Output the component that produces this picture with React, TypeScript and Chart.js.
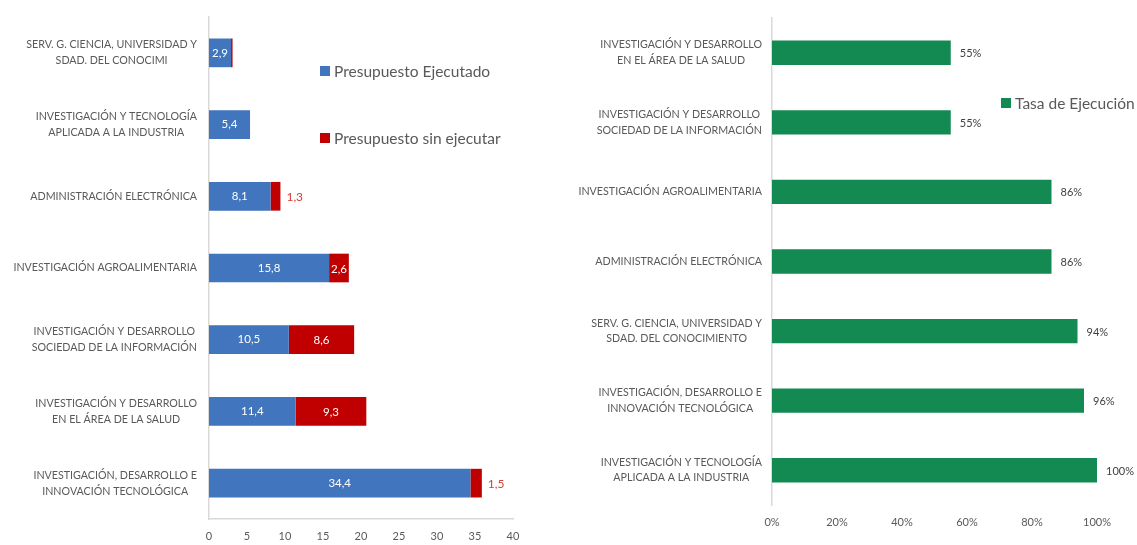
import React, { useEffect, useRef } from "react";
import { Chart, registerables } from "chart.js";

Chart.register(...registerables);

const leftCategories: string[][] = [
  ["SERV. G. CIENCIA, UNIVERSIDAD Y", "SDAD. DEL CONOCIMI"],
  ["INVESTIGACIÓN Y TECNOLOGÍA", "APLICADA A LA INDUSTRIA"],
  ["ADMINISTRACIÓN ELECTRÓNICA"],
  ["INVESTIGACIÓN AGROALIMENTARIA"],
  ["INVESTIGACIÓN Y DESARROLLO", "SOCIEDAD DE LA INFORMACIÓN"],
  ["INVESTIGACIÓN Y DESARROLLO", "EN EL ÁREA DE LA SALUD"],
  ["INVESTIGACIÓN, DESARROLLO E", "INNOVACIÓN TECNOLÓGICA"],
];
const ejecutado: number[] = [2.9, 5.4, 8.1, 15.8, 10.5, 11.4, 34.4];
const sinEjecutar: number[] = [0.2, 0, 1.3, 2.6, 8.6, 9.3, 1.5];
const leftTicks: number[] = [0, 5, 10, 15, 20, 25, 30, 35, 40];

const rightCategories: string[][] = [
  ["INVESTIGACIÓN Y DESARROLLO", "EN EL ÁREA DE LA SALUD"],
  ["INVESTIGACIÓN Y DESARROLLO", "SOCIEDAD DE LA INFORMACIÓN"],
  ["INVESTIGACIÓN AGROALIMENTARIA"],
  ["ADMINISTRACIÓN ELECTRÓNICA"],
  ["SERV. G. CIENCIA, UNIVERSIDAD Y", "SDAD. DEL CONOCIMIENTO"],
  ["INVESTIGACIÓN, DESARROLLO E", "INNOVACIÓN TECNOLÓGICA"],
  ["INVESTIGACIÓN Y TECNOLOGÍA", "APLICADA A LA INDUSTRIA"],
];
const tasaEjecucion: number[] = [55, 55, 86, 86, 94, 96, 100];
const rightTicks: number[] = [0, 20, 40, 60, 80, 100];

const FONT = "Lato";
const BLUE = "#4175bd";
const RED = "#c00000";
const GREEN = "#138a51";
const TEXT = "#595959";

const fmt = (v: number) => v.toFixed(1).replace(".", ",");

function categoryLabelPlugin(labels: string[][], gap: number, lineH: number) {
  return {
    id: "catLabels",
    afterDraw(chart: any) {
      const ctx = chart.ctx;
      const y = chart.scales.y;
      ctx.save();
      ctx.font = `10.7px ${FONT}`;
      ctx.fillStyle = TEXT;
      ctx.textAlign = "center";
      ctx.textBaseline = "middle";
      labels.forEach((lines, i) => {
        const py = y.getPixelForValue(i);
        const w = Math.max(...lines.map((l) => ctx.measureText(l).width));
        const cx = chart.chartArea.left - gap - w / 2;
        const start = py - ((lines.length - 1) * lineH) / 2;
        lines.forEach((l, k) => ctx.fillText(l, cx, start + k * lineH));
      });
      ctx.restore();
    },
  };
}

const leftValueLabels = {
  id: "leftValues",
  afterDatasetsDraw(chart: any) {
    const ctx = chart.ctx;
    ctx.save();
    ctx.textBaseline = "middle";
    chart.data.datasets.forEach((ds: any, di: number) => {
      const meta = chart.getDatasetMeta(di);
      meta.data.forEach((bar: any, i: number) => {
        const v = ds.data[i];
        if (!v || v < 1) return;
        const mid = (bar.x + bar.base) / 2;
        if (di === 1 && v < 2) {
          ctx.font = `12px ${FONT}`;
          ctx.fillStyle = "#d0403c";
          ctx.textAlign = "left";
          ctx.fillText(fmt(v), bar.x + 6, bar.y + 1);
        } else {
          ctx.font = `11.5px ${FONT}`;
          ctx.fillStyle = "#ffffff";
          ctx.textAlign = "center";
          ctx.fillText(fmt(v), mid, bar.y + (di === 1 ? 1 : 0));
        }
      });
    });
    ctx.restore();
  },
};

const rightValueLabels = {
  id: "rightValues",
  afterDatasetsDraw(chart: any) {
    const ctx = chart.ctx;
    ctx.save();
    ctx.font = `11px ${FONT}`;
    ctx.fillStyle = "#404040";
    ctx.textAlign = "left";
    ctx.textBaseline = "middle";
    const meta = chart.getDatasetMeta(0);
    meta.data.forEach((bar: any, i: number) => {
      ctx.fillText(`${tasaEjecucion[i]}%`, bar.x + 9, bar.y + 1);
    });
    ctx.restore();
  },
};

function LeftChart() {
  const ref = useRef<HTMLCanvasElement>(null);
  useEffect(() => {
    const chart = new Chart(ref.current!, {
      type: "bar",
      data: {
        labels: leftCategories.map((l) => l.join(" ")),
        datasets: [
          { label: "Presupuesto Ejecutado", data: ejecutado, backgroundColor: BLUE, categoryPercentage: 1, barPercentage: 0.4 },
          { label: "Presupuesto sin ejecutar", data: sinEjecutar, backgroundColor: RED, categoryPercentage: 1, barPercentage: 0.4 },
        ],
      },
      options: {
        indexAxis: "y",
        responsive: false,
        animation: false,
        devicePixelRatio: 1,
        layout: { padding: { top: 17, right: 47, left: 0, bottom: 0 } },
        plugins: { legend: { display: false }, tooltip: { enabled: false } },
        scales: {
          x: {
            stacked: true,
            min: 0,
            max: 40,
            afterBuildTicks: (s: any) => { s.ticks = leftTicks.map((v) => ({ value: v })); },
            grid: { display: false, drawTicks: false },
            border: { display: true, color: "#d9d9d9", width: 1.5 },
            ticks: { color: TEXT, font: { family: FONT, size: 11 }, padding: 11, maxRotation: 0 },
            afterFit: (s: any) => { s.height = 26; },
          },
          y: {
            stacked: true,
            grid: { display: false, drawTicks: false },
            border: { display: true, color: "#d9d9d9", width: 1.5 },
            ticks: { display: false },
            afterFit: (s: any) => { s.width = 209; },
          },
        },
      },
      plugins: [categoryLabelPlugin(leftCategories, 12, 16), leftValueLabels],
    } as any);
    return () => chart.destroy();
  }, []);
  return <canvas ref={ref} width={560} height={545} style={{ position: "absolute", left: 0, top: 0 }} />;
}

function RightChart() {
  const ref = useRef<HTMLCanvasElement>(null);
  useEffect(() => {
    const chart = new Chart(ref.current!, {
      type: "bar",
      data: {
        labels: rightCategories.map((l) => l.join(" ")),
        datasets: [
          { label: "Tasa de Ejecución", data: tasaEjecucion, backgroundColor: GREEN, categoryPercentage: 1, barPercentage: 0.35 },
        ],
      },
      options: {
        indexAxis: "y",
        responsive: false,
        animation: false,
        devicePixelRatio: 1,
        layout: { padding: { top: 18, right: 40, left: 0, bottom: 0 } },
        plugins: { legend: { display: false }, tooltip: { enabled: false } },
        scales: {
          x: {
            min: 0,
            max: 100,
            afterBuildTicks: (s: any) => { s.ticks = rightTicks.map((v) => ({ value: v })); },
            grid: { display: false, drawTicks: false },
            border: { display: false },
            ticks: { color: TEXT, font: { family: FONT, size: 11 }, padding: 11, maxRotation: 0, callback: (v: any) => `${v}%` },
            afterFit: (s: any) => { s.height = 40; },
          },
          y: {
            grid: { display: false, drawTicks: false },
            border: { display: true, color: "#d9d9d9", width: 1.5 },
            ticks: { display: false },
            afterFit: (s: any) => { s.width = 212; },
          },
        },
      },
      plugins: [categoryLabelPlugin(rightCategories, 10, 15.5), rightValueLabels],
    } as any);
    return () => chart.destroy();
  }, []);
  return <canvas ref={ref} width={577} height={545} style={{ position: "absolute", left: 560, top: 0 }} />;
}

function LegendItem({ x, y, color, text }: { x: number; y: number; color: string; text: string }) {
  return (
    <div style={{ position: "absolute", left: x, top: y - 10, height: 20, display: "flex", alignItems: "center", fontFamily: FONT, fontSize: 15.5, color: TEXT, whiteSpace: "nowrap" }}>
      <span style={{ display: "inline-block", width: 10, height: 10, background: color, marginRight: 4 }} />
      <span>{text}</span>
    </div>
  );
}

export default function App() {
  return (
    <div style={{ position: "fixed", left: 0, top: 0, width: 1137, height: 545, background: "#ffffff", overflow: "hidden" }}>
      <LeftChart />
      <RightChart />
      <LegendItem x={320} y={71} color={BLUE} text="Presupuesto Ejecutado" />
      <LegendItem x={320} y={138} color={RED} text="Presupuesto sin ejecutar" />
      <LegendItem x={1001} y={103} color={GREEN} text="Tasa de Ejecución" />
    </div>
  );
}
